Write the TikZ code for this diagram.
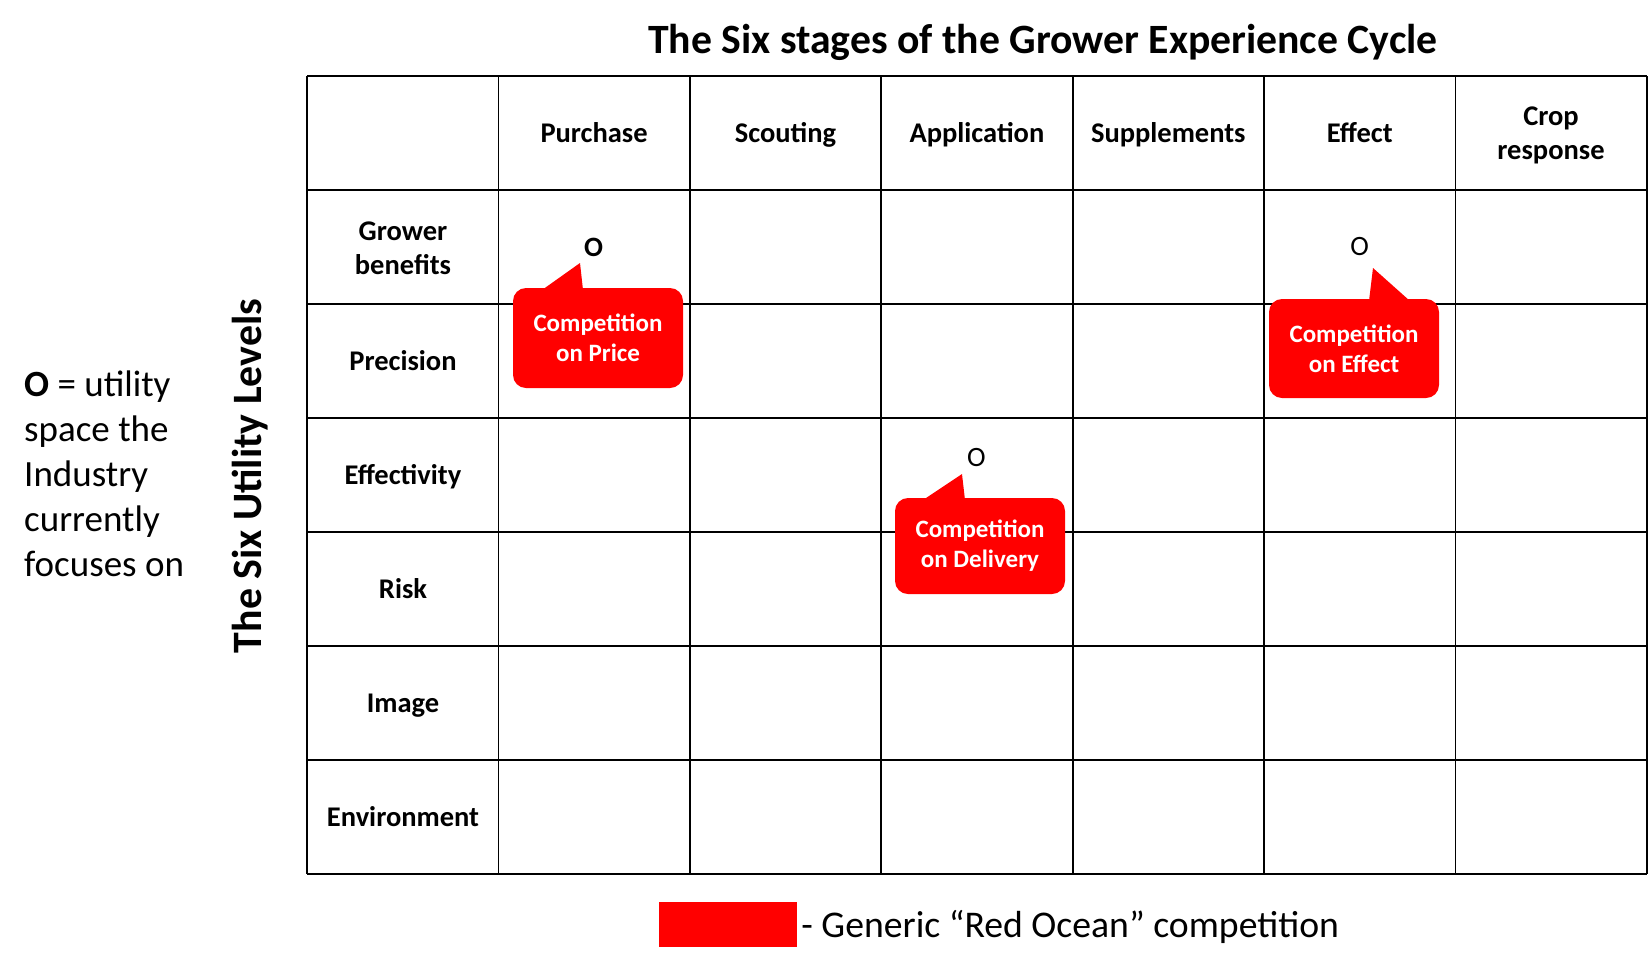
\documentclass[tikz,border=0pt]{standalone}
\usepackage{fontspec}
\setmainfont{Carlito}
\definecolor{oceanred}{HTML}{FF0000}
\tikzset{
  gridline/.style={line width=1.8pt},
  headtext/.style={font=\fontsize{28.5}{34}\selectfont\bfseries, align=center},
  oneline/.style={headtext, text height=20pt, text depth=7pt, inner sep=0pt},
  bubble/.style={fill=oceanred, rounded corners=13pt},
  bubbletext/.style={text=white, font=\fontsize{25}{30}\selectfont\bfseries, align=center},
  spot/.style={font=\fontsize{28}{34}\selectfont}
}

\begin{document}
\begin{tikzpicture}[x=1pt,y=-1pt]
    \useasboundingbox (0,0) rectangle (1650,970);
    % table
    \foreach \i in {0,...,7}
      \draw[gridline] (307+191.4*\i,76) -- (307+191.4*\i,874);
    \foreach \j in {0,...,7}
      \draw[gridline] (307,76+114*\j) -- (1646.8,76+114*\j);
    \foreach \name/\txt [count=\c] in {purchase/Purchase, scouting/Scouting, application/Application, supplements/Supplements, effect/Effect}
      \node[oneline] (\name) at (307+191.4*\c+95.7,136) {\txt};
    \node[headtext] (crop) at (1551,135) {Crop\\response};
    \node[headtext] (grower) at (403,248) {Grower\\benefits};
    \foreach \name/\txt [count=\r from 2] in {precision/Precision, effectivity/Effectivity, risk/Risk, image/Image, environment/Environment}
      \node[oneline] (\name) at (403,76+114*\r+60) {\txt};
    % titles
    \node[font=\fontsize{41.7}{48}\selectfont\bfseries] (title) at (1043,42) {The Six stages of the Grower Experience Cycle};
    \node[font=\fontsize{41.8}{48}\selectfont\bfseries, rotate=90] (levels) at (250,476) {The Six Utility Levels};
    \node[anchor=west, align=left, inner sep=0pt, font=\fontsize{37}{45}\selectfont] (note) at (24,473.5)
      {{\bfseries O} = utility\\space the\\Industry\\currently\\focuses on};
    % callouts
    \node[spot, font=\fontsize{28}{34}\selectfont\bfseries] (oprice) at (593.5,247) {O};
    \fill[oceanred] (542,290) -- (580,263) -- (583,290) -- cycle;
    \fill[bubble] (513,288) rectangle (683,388);
    \node[bubbletext] (price) at (598,338) {Competition\\on Price};
    \node[spot] (oeffect) at (1359.6,247) {O};
    \fill[oceanred] (1369,301) -- (1373,268) -- (1410,301) -- cycle;
    \fill[bubble] (1269,299) rectangle (1439,398);
    \node[bubbletext] (effectcall) at (1354,349) {Competition\\on Effect};
    \node[spot] (odelivery) at (976.5,457.7) {O};
    \fill[oceanred] (923,500) -- (962,474) -- (965,500) -- cycle;
    \fill[bubble] (895,498) rectangle (1065,594);
    \node[bubbletext] (delivery) at (980,546) {Competition\\on Delivery};
    % legend
    \node[fill=oceanred, minimum width=138pt, minimum height=45pt, inner sep=0pt] (swatch) at (728,924.5) {};
    \node[anchor=west, inner sep=4pt, font=\fontsize{37.7}{44}\selectfont] (legend) at ([yshift=-2pt]swatch.east) {- Generic “Red Ocean” competition};
\end{tikzpicture}
\end{document}
